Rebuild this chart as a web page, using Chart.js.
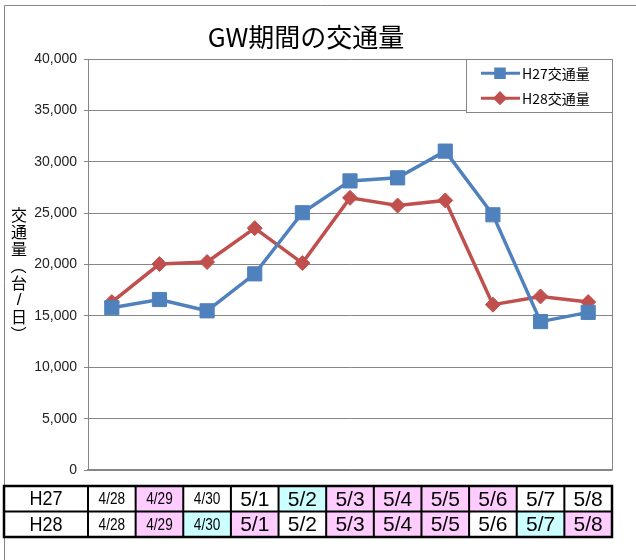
<!DOCTYPE html>
<html>
<head>
<meta charset="utf-8">
<script src="https://cdn.jsdelivr.net/npm/chart.js@4/dist/chart.umd.min.js"></script>
<style>
  body { margin: 0; background: #fff; }
  #wrap { width: 636px; height: 560px; }
</style>
</head>
<body>
<div id="wrap"><canvas id="gwChart" width="636" height="560"></canvas></div>
<script>
// data
var days = ['4/28', '4/29', '4/30', '5/1', '5/2', '5/3', '5/4', '5/5', '5/6', '5/7', '5/8'];
var h27Traffic = [15800, 16600, 15500, 19100, 25050, 28150, 28450, 31050, 24850, 14450, 15350];
var h28Traffic = [16350, 20050, 20250, 23550, 20150, 26500, 25750, 26250, 16100, 16900, 16350];
// day type of each cell in the table: '' weekday, 'hol' holiday, 'sat' saturday
var h27DayType = ['', 'hol', '', '', 'sat', 'hol', 'hol', 'hol', 'hol', '', ''];
var h28DayType = ['', 'hol', 'sat', 'hol', '', 'hol', 'hol', 'hol', '', 'sat', 'hol'];
var rowLabels = ['H27', 'H28'];
var seriesNames = ['H27交通量', 'H28交通量'];
var yMin = 0, yMax = 40000, yStep = 5000;
var yTitleChars = ['交', '通', '量', '（', '台', '/', '日', '）'];

var blue = '#4F81BD';
var red = '#C0504D';
var gridGray = '#868686';
var cellColors = { '': '#ffffff', 'hol': '#FFCCFF', 'sat': '#CCFFFF' };
var jpFont = '"Noto Sans CJK JP", "Liberation Sans", sans-serif';

// narrow text, like the condensed gothic font of the original
function narrowText(ctx, text, x, y, size, squeeze) {
    ctx.save();
    ctx.translate(x, y);
    ctx.scale(squeeze, 1);
    ctx.font = size + 'px "Liberation Sans", sans-serif';
    ctx.fillText(text, 0, 0);
    ctx.restore();
}

var framePlugin = {
    id: 'frame',
    beforeDraw: function (chart) {
        var ctx = chart.ctx;
        ctx.save();
        ctx.strokeStyle = gridGray;
        ctx.lineWidth = 1;
        ctx.beginPath();
        ctx.moveTo(4.5, 560);
        ctx.lineTo(4.5, 5.5);
        ctx.lineTo(636, 5.5);
        ctx.stroke();
        ctx.restore();
    },
    afterDatasetsDraw: function (chart) {
        var ctx = chart.ctx;
        var a = chart.chartArea;
        ctx.save();
        ctx.strokeStyle = gridGray;
        ctx.lineWidth = 1;
        ctx.beginPath();
        ctx.moveTo(Math.round(a.right) + 0.5, a.top);
        ctx.lineTo(Math.round(a.right) + 0.5, a.bottom);
        ctx.stroke();

        // vertical axis title, one character under another
        ctx.fillStyle = '#000';
        ctx.textAlign = 'center';
        ctx.textBaseline = 'middle';
        for (var i = 0; i < yTitleChars.length; i++) {
            var ch = yTitleChars[i];
            var cy = 215 + i * 17;
            ctx.save();
            ctx.translate(19, cy);
            if (ch === '（' || ch === '）') {
                ctx.rotate(Math.PI / 2);
            }
            ctx.font = (ch === '/' ? '17px "Liberation Sans", sans-serif' : '16px ' + jpFont);
            ctx.fillText(ch, 0, 0);
            ctx.restore();
        }
        ctx.restore();
    }
};

var legendPlugin = {
    id: 'boxLegend',
    afterDraw: function (chart) {
        var ctx = chart.ctx;
        var a = chart.chartArea;
        var bx = 466, by = a.top, bw = a.right - 466, bh = 53;
        ctx.save();
        ctx.fillStyle = '#fff';
        ctx.fillRect(bx, by, bw, bh);
        ctx.strokeStyle = gridGray;
        ctx.lineWidth = 1;
        ctx.strokeRect(bx + 0.5, Math.round(by) + 0.5, bw, bh);
        chart.data.datasets.forEach(function (ds, i) {
            var y = by + 14 + i * 25;
            ctx.strokeStyle = ds.borderColor;
            ctx.lineWidth = 3;
            ctx.beginPath();
            ctx.moveTo(481, y);
            ctx.lineTo(520, y);
            ctx.stroke();
            ctx.fillStyle = ds.borderColor;
            Chart.helpers.drawPoint(ctx, {
                pointStyle: ds.pointStyle,
                radius: ds.pointStyle === 'rect' ? 6 : 5,
                rotation: 0,
                borderWidth: 1
            }, 500, y);
            ctx.fillStyle = '#000';
            ctx.font = '14px ' + jpFont;
            ctx.textAlign = 'left';
            ctx.textBaseline = 'middle';
            ctx.fillText(ds.label, 522, y);
        });
        ctx.restore();
    }
};

var tablePlugin = {
    id: 'dayTable',
    afterDraw: function (chart) {
        var ctx = chart.ctx;
        var xs = chart.scales.x;
        var a = chart.chartArea;
        var colW = (a.right - a.left) / days.length;
        var top = 486, rowH = 25.5;
        var types = [h27DayType, h28DayType];
        ctx.save();
        ctx.textAlign = 'center';
        ctx.textBaseline = 'middle';
        for (var r = 0; r < 2; r++) {
            var y0 = top + r * rowH;
            ctx.fillStyle = '#fff';
            ctx.fillRect(4, y0, a.left - 4, rowH);
            ctx.fillStyle = '#000';
            narrowText(ctx, rowLabels[r], (4 + a.left) / 2, y0 + rowH / 2 + 1, 20, 0.9);
            for (var i = 0; i < days.length; i++) {
                var cx = xs.getPixelForValue(i);
                ctx.fillStyle = cellColors[types[r][i]];
                ctx.fillRect(cx - colW / 2, y0, colW, rowH);
                ctx.fillStyle = '#000';
                if (days[i].length > 3) {
                    narrowText(ctx, days[i], cx, y0 + rowH / 2 + 1, 17, 0.8);
                } else {
                    narrowText(ctx, days[i], cx, y0 + rowH / 2 + 1, 21, 1.0);
                }
            }
        }
        // grid of the table
        ctx.strokeStyle = '#000';
        ctx.lineWidth = 2.5;
        ctx.strokeRect(4, top, a.right - 4, rowH * 2);
        ctx.lineWidth = 2;
        ctx.beginPath();
        ctx.moveTo(4, top + rowH);
        ctx.lineTo(a.right, top + rowH);
        for (var k = 0; k < days.length; k++) {
            var lx = a.left + k * colW;
            ctx.moveTo(lx, top);
            ctx.lineTo(lx, top + rowH * 2);
        }
        ctx.stroke();
        ctx.restore();
    }
};

var ctx = document.getElementById('gwChart');
var gwChart = new Chart(ctx, {
    type: 'line',
    data: {
        labels: days,
        datasets: [
            {
                label: seriesNames[0],
                data: h27Traffic,
                borderColor: blue,
                backgroundColor: blue,
                borderWidth: 3.5,
                pointStyle: 'rect',
                pointRadius: 10,
                pointBorderWidth: 1,
                pointBackgroundColor: blue,
                pointBorderColor: blue,
                tension: 0
            },
            {
                label: seriesNames[1],
                data: h28Traffic,
                borderColor: red,
                backgroundColor: red,
                borderWidth: 3.5,
                pointStyle: 'rectRot',
                pointRadius: 7.5,
                pointBorderWidth: 1,
                pointBackgroundColor: red,
                pointBorderColor: red,
                tension: 0
            }
        ]
    },
    options: {
        responsive: false,
        animation: false,
        layout: { padding: { left: 0, right: 24, top: 0, bottom: 0 } },
        plugins: {
            legend: { display: false },
            tooltip: { enabled: false },
            title: {
                display: true,
                text: 'GW期間の交通量',
                color: '#000',
                font: { family: jpFont, size: 26, weight: 'normal' },
                padding: { top: 22, bottom: 6 }
            }
        },
        scales: {
            x: {
                offset: true,
                grid: { display: false },
                border: { display: true, color: gridGray, width: 1.5 },
                ticks: { display: false },
                afterFit: function (s) { s.height = 90; }
            },
            y: {
                min: yMin,
                max: yMax,
                grid: { color: gridGray, lineWidth: 1, tickLength: 4 },
                border: { color: gridGray, width: 1 },
                ticks: {
                    stepSize: yStep,
                    padding: 7,
                    color: '#222',
                    font: { family: '"Liberation Sans", sans-serif', size: 14 },
                    callback: function (v) { return v.toLocaleString('en-US'); }
                },
                afterFit: function (s) { s.width = 88; }
            }
        }
    },
    plugins: [framePlugin, legendPlugin, tablePlugin]
});
</script>
</body>
</html>
